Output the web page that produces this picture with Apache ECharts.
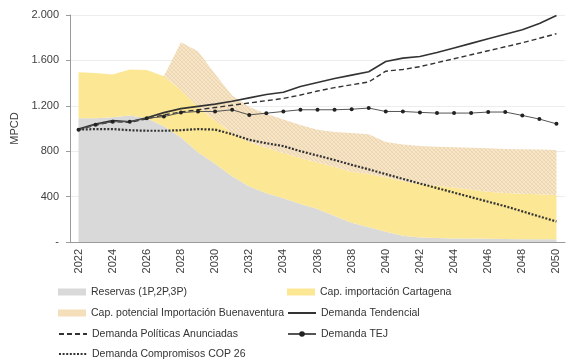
<!DOCTYPE html>
<html>
<head>
<meta charset="utf-8">
<script src="https://cdn.jsdelivr.net/npm/echarts@6/dist/echarts.min.js"></script>
<style>html,body{margin:0;padding:0;background:#fff}#c{width:580px;height:360px}</style>
</head>
<body>
<div id="c"></div>
<script>
var years = [2022,2023,2024,2025,2026,2027,2028,2029,2030,2031,2032,2033,2034,2035,2036,2037,2038,2039,2040,2041,2042,2043,2044,2045,2046,2047,2048,2049,2050];
var reservas = [1090,1090,1100,1115,1090,1020,920,790,690,580,490,430,385,335,290,230,170,130,90,55,40,35,30,30,28,27,25,25,25];
var cartagena = [405,400,375,405,425,440,420,400,380,380,390,400,400,405,410,430,450,470,480,480,470,460,450,430,415,405,400,395,390];
var buenaventura = [null,null,null,null,null,0,420,490,410,330,310,300,295,290,290,310,340,350,310,325,335,345,355,370,382,388,393,395,395];
var tendencial = [995,1040,1070,1060,1095,1140,1175,1195,1215,1240,1270,1300,1320,1370,1405,1440,1470,1500,1590,1620,1635,1670,1710,1750,1790,1830,1870,1925,1995];
var politicas = [990,1030,1060,1055,1085,1120,1145,1165,1185,1205,1225,1245,1265,1295,1330,1360,1385,1410,1505,1520,1545,1580,1615,1650,1685,1720,1755,1795,1835];
var tej = [990,1033,1060,1060,1090,1105,1140,1150,1150,1165,1120,1135,1150,1165,1165,1165,1170,1180,1150,1150,1142,1136,1136,1136,1145,1145,1115,1083,1041];
var cop26 = [990,995,995,985,980,980,985,995,990,950,900,870,845,800,762,722,680,640,598,556,515,475,435,395,355,315,270,225,180];
var yTicks = [0,400,800,1200,1600,2000];

var tile = document.createElement('canvas');
tile.width = 4; tile.height = 4;
var g = tile.getContext('2d');
g.fillStyle = '#f7e6ca'; g.fillRect(0,0,4,4);
g.fillStyle = '#ebd3ab';
for (var i=0;i<4;i++){ g.fillRect(i,i,1,1); }
g.fillStyle = '#f1dcb9';
for (var j=0;j<4;j++){ g.fillRect(3-j,j,1,1); }

function fmt(v){
  if (v === 0) return '-';
  var s = String(v);
  if (v >= 1000) s = s.slice(0, s.length-3) + '.' + s.slice(s.length-3);
  return s;
}

var font = 'Liberation Sans, Arial, sans-serif';
var hideSym = {color: 'rgba(0,0,0,0)', borderColor: 'rgba(0,0,0,0)', borderWidth: 0, opacity: 0};
function lg(left, top, item){
  return {
    left: left, top: top, itemWidth: 28, itemHeight: 7, padding: 5,
    textStyle: {fontSize: 10.5, color: '#333', lineHeight: 14, fontFamily: font},
    data: [item]
  };
}

var chart = echarts.init(document.getElementById('c'));
chart.setOption({
  animation: false,
  textStyle: {fontFamily: font},
  grid: {left: 70, right: 15, top: 15, bottom: 118},
  xAxis: {
    type: 'category', data: years.map(String), boundaryGap: true,
    axisLine: {lineStyle: {color: '#9a9a9a'}},
    axisTick: {interval: 1, length: 4, lineStyle: {color: '#9a9a9a'}},
    axisLabel: {interval: 1, rotate: 90, color: '#404040', fontSize: 11, margin: 7, fontFamily: font}
  },
  yAxis: {
    type: 'value', min: yTicks[0], max: yTicks[yTicks.length-1], interval: 400,
    name: 'MPCD', nameLocation: 'middle', nameGap: 50, nameRotate: 90,
    nameTextStyle: {color: '#404040', fontSize: 11, fontFamily: font},
    axisLine: {show: true, lineStyle: {color: '#9a9a9a'}},
    axisTick: {show: true, length: 4, lineStyle: {color: '#9a9a9a'}},
    axisLabel: {color: '#404040', fontSize: 11, margin: 11, formatter: fmt, fontFamily: font},
    splitLine: {lineStyle: {color: '#ededed'}}
  },
  legend: [
    lg(53, 280, {name: 'Reservas (1P,2P,3P)', icon: 'rect'}),
    lg(53, 301, {name: 'Cap. potencial Importación Buenaventura', icon: 'rect', itemStyle: {color: '#f5dfba'}}),
    lg(53, 322, {name: 'Demanda Políticas Anunciadas', itemStyle: hideSym}),
    lg(53, 342, {name: 'Demanda Compromisos COP 26', itemStyle: hideSym}),
    lg(282, 280, {name: 'Cap. importación Cartagena', icon: 'rect'}),
    lg(282, 301, {name: 'Demanda Tendencial', itemStyle: hideSym}),
    lg(282, 322, {name: 'Demanda TEJ'})
  ],
  series: [
    {name: 'Reservas (1P,2P,3P)', type: 'line', stack: 'cap', data: reservas, showSymbol: false,
     color: '#d9d9d9', lineStyle: {width: 0}, areaStyle: {color: '#d9d9d9', opacity: 1}},
    {name: 'Cap. importación Cartagena', type: 'line', stack: 'cap', data: cartagena, showSymbol: false,
     color: '#fce795', lineStyle: {width: 0}, areaStyle: {color: '#fce795', opacity: 1}},
    {name: 'Cap. potencial Importación Buenaventura', type: 'line', stack: 'cap', data: buenaventura, showSymbol: false,
     color: '#f5dfba', lineStyle: {width: 0}, areaStyle: {color: {image: tile, repeat: 'repeat'}, opacity: 1}},
    {name: 'Demanda Tendencial', type: 'line', data: tendencial, showSymbol: false, symbol: 'none',
     color: '#333', lineStyle: {color: '#333', width: 1.6}},
    {name: 'Demanda Políticas Anunciadas', type: 'line', data: politicas, showSymbol: false, symbol: 'none',
     color: '#333', lineStyle: {color: '#333', width: 1.4, type: [5, 3]}},
    {name: 'Demanda TEJ', type: 'line', data: tej, symbol: 'circle', symbolSize: 4,
     color: '#222', itemStyle: {color: '#222'}, lineStyle: {color: '#555', width: 1}},
    {name: 'Demanda Compromisos COP 26', type: 'line', data: cop26, showSymbol: false, symbol: 'none',
     color: '#333', lineStyle: {color: '#333', width: 2.2, type: [2, 1.6]}}
  ]
});
</script>
</body>
</html>
